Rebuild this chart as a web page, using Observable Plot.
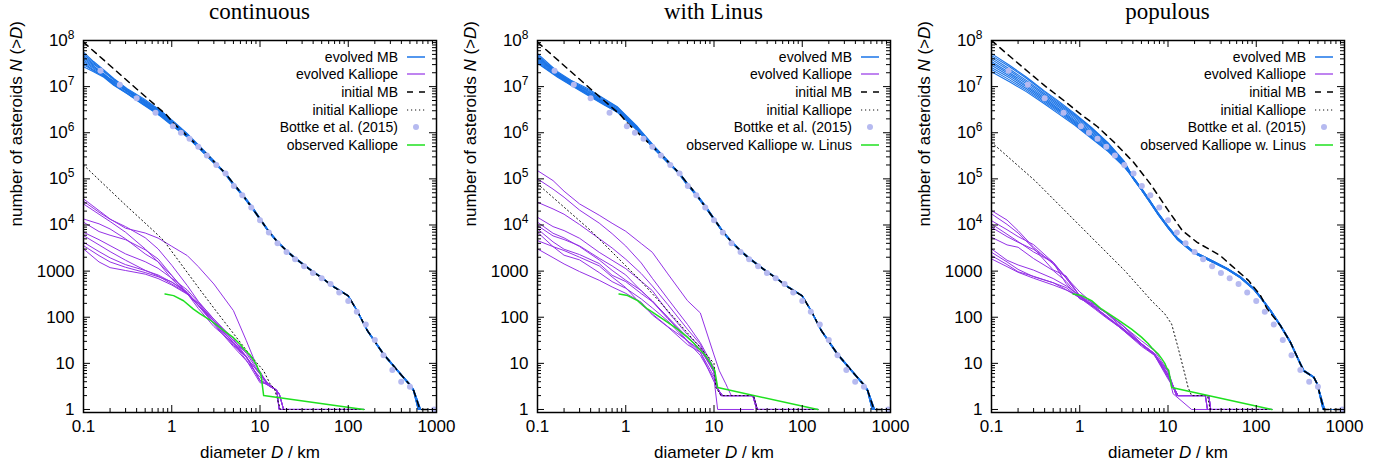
<!DOCTYPE html>
<html>
<head>
<meta charset="utf-8">
<script src="https://cdn.jsdelivr.net/npm/d3@7"></script>
<script src="https://cdn.jsdelivr.net/npm/@observablehq/plot@0.6"></script>
<style>
  html,body{margin:0;padding:0;background:#fff;}
  #wrap{position:relative;width:1392px;height:470px;overflow:hidden;background:#fff;}
  .panel{position:absolute;top:30px;}
  .title{position:absolute;top:-1px;height:30px;font-family:"Liberation Serif","Times New Roman",serif;font-size:23px;line-height:25px;text-align:center;color:#000;white-space:nowrap;}
  .legend{position:absolute;font-family:"Liberation Sans",Arial,sans-serif;font-size:14px;color:#000;}
  .legend .row{display:flex;justify-content:flex-end;align-items:center;height:17.6px;white-space:nowrap;}
  .legend .row svg{margin-left:9px;flex:none;}
</style>
</head>
<body>
<div id="wrap"></div>
<script>
// ---------------- texts ----------------
const panelTitles = ["continuous", "with Linus", "populous"];
const legendLabels = ["evolved MB", "evolved Kalliope", "initial MB", "initial Kalliope", "Bottke et al. (2015)"];
const obsLabels = ["observed Kalliope", "observed Kalliope w. Linus", "observed Kalliope w. Linus"];
const xTitle = "diameter D / km";
const yTitle = "number of asteroids N (>D)";
const xTickValues = [0.1, 1, 10, 100, 1000];
const xTickLabels = ["0.1", "1", "10", "100", "1000"];
const yTickValues = [1, 10, 100, 1000, 1e4, 1e5, 1e6, 1e7, 1e8];
const yTickLabels = ["1", "10", "100", "1000", "10^4", "10^5", "10^6", "10^7", "10^8"];

// ---------------- Bottke et al. (2015) ----------------
const bottkeD = [0.156,0.258,0.40,0.655,1.03,1.27,1.59,2.0,2.5,3.2,4.07,5.05,6.3,7.96,10,12.6,15.8,20,25,31.6,39.8,50,63,79,100,125,158,200,251,316,398,500,940];
const bottkeN = [2.2e7,1.1e7,5.6e6,2.7e6,1.38e6,1.0e6,7.4e5,5.0e5,3.2e5,2.0e5,1.3e5,7.0e4,4.4e4,2.4e4,1.27e4,6.9e3,4.0e3,2.6e3,1.8e3,1.28e3,910,700,525,345,225,132,70,32,15,7.2,4,3.1,1];

// ---------------- evolved MB, panels 1 & 2 ----------------
const mbGrid1 = [0.1,0.13,0.17,0.22,0.31,0.48,0.74,1.05,1.48,2.1,3.0];
const mbP1 = [
  [5.6e7,3.5e7,2.3e7,1.5e7,9.1e6,5.5e6,3.1e6,1.75e6,9.8e5,5.0e5,2.5e5],
  [5.1e7,3.3e7,2.2e7,1.45e7,8.8e6,5.2e6,3.0e6,1.7e6,9.6e5,4.9e5,2.45e5],
  [4.7e7,3.1e7,2.1e7,1.4e7,8.5e6,5.0e6,2.9e6,1.65e6,9.4e5,4.8e5,2.4e5],
  [4.4e7,2.9e7,1.75e7,1.33e7,8.2e6,4.8e6,2.8e6,1.6e6,9.2e5,4.7e5,2.38e5],
  [4.1e7,2.75e7,1.9e7,1.28e7,8.0e6,4.7e6,2.7e6,1.55e6,9.0e5,4.6e5,2.35e5],
  [3.8e7,2.6e7,1.85e7,1.22e7,7.8e6,4.5e6,2.6e6,1.5e6,8.8e5,4.55e5,2.3e5],
  [3.5e7,2.45e7,1.8e7,1.18e7,8.2e6,4.4e6,2.5e6,1.45e6,8.6e5,4.5e5,2.28e5],
  [3.2e7,2.3e7,1.7e7,1.13e7,7.4e6,4.2e6,2.45e6,1.42e6,8.5e5,4.4e5,2.25e5],
  [3.0e7,2.2e7,1.65e7,1.1e7,7.2e6,4.1e6,2.4e6,1.38e6,8.3e5,4.35e5,2.22e5],
  [2.7e7,2.1e7,1.6e7,1.07e7,7.1e6,4.0e6,2.3e6,1.35e6,8.2e5,4.3e5,2.2e5]
];
const mbGrid2 = [0.1,0.169,0.239,0.37,0.57,0.81,1.05,1.36,2.1,3.0];
const mbP2 = [
  [5.2e7,2.1e7,1.38e7,9.1e6,5.5e6,3.6e6,2.2e6,1.35e6,5.1e5,2.5e5],
  [4.8e7,2.0e7,1.32e7,8.6e6,5.3e6,3.5e6,2.1e6,1.3e6,5.0e5,2.45e5],
  [4.5e7,1.95e7,1.28e7,8.2e6,5.0e6,3.4e6,2.05e6,1.27e6,4.9e5,2.4e5],
  [4.3e7,1.9e7,1.25e7,7.9e6,4.8e6,3.2e6,2.0e6,1.25e6,4.85e5,2.38e5],
  [4.1e7,1.85e7,1.22e7,7.6e6,4.6e6,3.1e6,1.95e6,1.22e6,4.8e5,2.35e5],
  [3.9e7,1.8e7,1.18e7,7.3e6,4.5e6,3.0e6,1.9e6,1.2e6,4.7e5,2.32e5],
  [3.7e7,1.75e7,1.15e7,7.1e6,4.3e6,2.95e6,1.85e6,1.18e6,4.6e5,2.3e5],
  [3.5e7,1.7e7,1.12e7,6.9e6,4.2e6,2.85e6,1.8e6,1.15e6,4.5e5,2.27e5],
  [3.3e7,1.65e7,1.1e7,6.7e6,4.1e6,2.8e6,1.77e6,1.13e6,4.45e5,2.24e5],
  [3.2e7,1.6e7,1.07e7,6.5e6,4.0e6,2.75e6,1.74e6,1.12e6,4.4e5,2.2e5]
];
const mbTail12a = [[4,1.35e5],[5,7.6e4],[6.3,4.6e4],[8,2.5e4],[10,1.35e4],[12.6,7.2e3],[15.8,4.3e3],[20,2.75e3],[25,1.9e3],[32,1.33e3],[40,960],[48,760],[68,460],[100,290],[126,138],[164,52],[250,16],[390,5.9],[507,3.3],[550,2.6],[650,1],[940,1]];
const mbTail12b = [[4,1.3e5],[5,7.3e4],[6.3,4.4e4],[8,2.4e4],[10,1.3e4],[12.6,7.0e3],[15.8,4.2e3],[20,2.7e3],[25,1.85e3],[32,1.3e3],[40,950],[48,750],[68,455],[100,288],[126,136],[164,51],[250,15.5],[390,5.8],[507,3.2],[550,2.5],[620,1],[940,1]];
const mbTail12c = [[4,1.4e5],[5,7.9e4],[6.3,4.75e4],[8,2.6e4],[10,1.4e4],[12.6,7.4e3],[15.8,4.4e3],[20,2.8e3],[25,1.95e3],[32,1.36e3],[40,980],[48,775],[68,468],[100,292],[126,140],[164,53],[250,16.5],[390,6.0],[507,3.4],[550,2.7],[660,1],[940,1]];
const initMB12 = [[0.1,9.2e7],[0.4,8.9e6],[0.88,2.4e6],[1.05,1.6e6],[1.6,7.6e5],[2.5,3.4e5],[4,1.35e5],[6.3,4.6e4],[10,1.35e4],[12.6,7.2e3],[15.8,4.3e3],[20,2.75e3],[25,1.9e3],[32,1.33e3],[40,960],[48,760],[68,460],[100,290],[126,138],[164,52],[250,16],[390,5.9],[507,3.3],[550,2.6],[650,1],[940,1]];

// ---------------- evolved MB, panel 3 ----------------
const mbGrid3 = [0.1,0.16,0.25,0.4,0.57,0.88,1.36,2.1,3.2];
const mbP3 = [
  [5.2e7,2.9e7,1.6e7,8.0e6,4.9e6,2.6e6,1.3e6,6.0e5,2.4e5],
  [4.7e7,2.7e7,1.5e7,7.6e6,4.6e6,2.45e6,1.25e6,5.8e5,2.35e5],
  [4.3e7,2.4e7,1.35e7,7.0e6,4.3e6,2.3e6,1.18e6,5.5e5,2.25e5],
  [3.9e7,2.2e7,1.25e7,6.5e6,4.0e6,2.15e6,1.1e6,5.2e5,2.2e5],
  [3.5e7,2.0e7,1.15e7,6.0e6,3.7e6,2.0e6,1.02e6,5.0e5,2.1e5],
  [3.2e7,1.85e7,1.05e7,5.6e6,3.4e6,1.85e6,9.5e5,4.7e5,2.05e5],
  [2.9e7,1.7e7,9.8e6,5.2e6,3.2e6,1.75e6,8.8e5,4.4e5,1.95e5],
  [2.6e7,1.55e7,9.0e6,4.8e6,3.0e6,1.65e6,8.3e5,4.2e5,1.9e5],
  [2.35e7,1.4e7,8.3e6,4.5e6,2.8e6,1.55e6,7.9e5,4.0e5,1.85e5],
  [2.1e7,1.27e7,7.7e6,4.2e6,2.6e6,1.45e6,7.5e5,3.9e5,1.8e5]
];
const mbTail3a = [[4.1,1.0e5],[5,6.0e4],[6.2,3.3e4],[7.74,1.74e4],[10.2,8600],[12.7,5100],[15.5,3700],[19.6,2560],[25.5,2000],[33,1560],[47,1110],[66,735],[94,410],[112,270],[145,139],[188,66],[244,28.6],[317,9.7],[346,6.9],[449,5.0],[490,3.6],[583,1],[942,1]];
const mbTail3b = [[4.1,9.6e4],[5,5.75e4],[6.2,3.15e4],[7.74,1.67e4],[10.2,8250],[12.7,4900],[15.5,3550],[19.6,2470],[25.5,1930],[33,1510],[47,1080],[66,715],[94,398],[112,262],[145,135],[188,64],[244,27.5],[317,9.3],[346,6.7],[449,4.9],[490,3.5],[570,1],[942,1]];
const mbTail3c = [[4.1,1.04e5],[5,6.25e4],[6.2,3.45e4],[7.74,1.81e4],[10.2,8950],[12.7,5300],[15.5,3850],[19.6,2650],[25.5,2070],[33,1610],[47,1140],[66,755],[94,422],[112,278],[145,143],[188,68],[244,29.6],[317,10],[346,7.1],[449,5.1],[490,3.7],[595,1],[942,1]];
const initMB3 = [[0.1,1.0e8],[0.16,4.6e7],[0.26,2.1e7],[0.40,1.05e7],[0.66,5.0e6],[1.03,2.5e6],[1.59,1.35e6],[2.5,6.0e5],[4.07,2.3e5],[6.3,7.8e4],[10,2.1e4],[14.5,7600],[21.4,4200],[39,2170],[82,622],[112,294],[133,151],[188,66],[244,28.6],[317,9.7],[346,6.9],[449,5.0],[490,3.6],[583,1],[942,1]];

// ---------------- evolved Kalliope ----------------
const kGridD = [0.1,0.15,0.2,0.3,0.5,0.7,1,1.5,2,3,5,7,10];
const kalP1 = [
  [36800,20500,13500,8500,6700,5200,3450,2170,1250,526,139,31,5.9],
  [32700,18900,13300,9200,5300,3030,1340,485,221,91,31,16.5,5.9],
  [28600,17100,11900,6950,3030,1580,676,315,200,83,28,13.5,5.9],
  [13500,10600,8200,5000,2360,1600,798,315,181,83,31,18,6.7],
  [11500,7200,6000,4800,2900,1840,810,330,177,71,23,11.4,5.0],
  [6950,4800,3570,2360,1600,1150,700,390,214,91,34,13.7,4.2],
  [5890,3700,2650,1720,1040,785,526,325,155,63,26.7,11.8,3.8],
  [4220,2650,1940,1380,1030,825,574,355,181,73,28.8,14.3,4.2],
  [3570,2170,1580,1210,930,757,585,330,181,76,24.3,14.2,4.3],
  [3030,1580,1190,1030,860,690,500,315,200,84,26.7,13.5,5.8]
];
const kalTail1a = [[12.5,3.6],[14,3],[15.5,2.6],[16.5,1],[150,1]];
const kalTail1b = [[12.5,3.3],[14.5,2.8],[16.5,2.2],[18.5,1],[150,1]];
const kalP2 = [
  [151000,91800,54000,28600,16300,10900,7300,3950,2560,870,229,124,15.2],
  [100000,60000,40000,21000,11000,6500,3500,1500,700,250,70,28,8],
  [31100,22300,17100,10200,5070,3180,1810,884,477,188,55,25.9,6.3],
  [14700,9230,7560,5150,2560,1720,1130,602,378,132,42,23,6.4],
  [11500,6620,5250,3400,1750,1040,633,378,225,100,36.7,19.5,7.3],
  [9700,5800,4830,3520,1900,1300,826,372,225,98,30.5,19.5,7.0],
  [8220,4300,2980,2280,1460,813,592,325,218,93,36,20.5,6.4],
  [6970,3400,2210,1750,929,592,425,249,159,83,29.6,14.9,4.6],
  [3030,1960,1430,976,633,454,330,211,112,61.5,25.5,17.4,4.0],
  [4590,3400,2790,2000,1300,748,439,188,118,62.5,31.1,17.4,5.2]
];
const kalTail2a = [[10.5,3.5],[12,2],[28,2],[31,1],[150,1]];
const kalTail2b = [[10.7,3],[12.5,2],[27.5,2],[30.5,1],[150,1]];
const kalTail2out = [[11.5,6.9],[13.6,3.6],[14.2,3],[15.7,2],[28,2],[31,1],[150,1]];
const kalTail2end = [[11,1],[28,1]];
const kalP3 = [
  [20500,12800,7550,3290,1430,700,294,170,127,68,31,18.9,6.9],
  [17400,10300,6700,3130,1060,785,290,155,102,59,26.3,15.4,5.9],
  [12400,7900,5600,3750,1550,535,250,185,122,61,26,16.5,5.0],
  [10500,6300,4370,2600,1550,710,285,160,100,57,25.7,15.4,5.0],
  [5420,3700,3290,1870,1030,600,265,148,97,56,25.5,15.4,6.6],
  [3030,1720,1360,1050,690,480,294,190,123,68,26.7,16.5,5.7],
  [2170,1390,970,770,560,440,260,167,104,55,25,15.2,4.6],
  [1840,1250,944,700,500,390,280,160,107,55,23.5,15,5.5],
  [2560,1580,1090,757,560,397,264,158,107,59,26.3,15.7,5.6],
  [8930,5600,4220,2950,1550,734,355,180,123,70,27,16.3,6.8]
];
const kalTail3a = [[11.5,3],[12.5,2],[26.5,2],[28,1],[150,1]];
const kalTail3b = [[11.6,3],[13,2],[29,2],[30.5,1],[150,1]];
const kalTail3end = [[11.4,2.2],[18.5,1],[28,1]];

// ---------------- initial Kalliope ----------------
const initKal1 = [[0.1,2.0e5],[0.3,2.7e4],[0.65,6900],[0.81,4600],[2.1,390],[3.24,130],[7.75,15],[11,6.9],[13,3.6],[14.6,2.8],[17,1],[150,1]];
const initKal2 = [[0.1,78000],[0.4,7600],[1.47,620],[3.5,100],[10,10],[10.5,3],[12,2],[28,2],[31,1],[150,1]];
const initKal3 = [[0.1,6.2e5],[0.31,9.2e4],[0.96,1.05e4],[3.24,1020],[6.5,229],[9.2,118],[11,71],[13,22],[15.5,5.9],[16.9,3],[18.5,2],[28,2],[30,1],[150,1]];

// ---------------- observed Kalliope ----------------
const obsKal = [[0.84,319],[1.05,294],[1.36,228],[1.76,150],[2.1,118],[2.72,87],[3.86,52],[5.0,36],[5.95,26],[6.5,21],[7.74,15],[8.4,12],[9.2,9],[9.6,7.2],[10.2,6],[10.5,4],[11,2],[150,1]];
const obsKalLinus = [[0.84,320],[1.05,295],[1.36,229],[1.76,151],[2.72,88],[3.86,55],[5.0,37],[5.95,27],[6.5,22],[7.74,16],[8.4,13],[9.2,10],[9.6,8.2],[10.2,7],[10.5,5],[11,3],[150,1]];

// ---------------- styles ----------------
const BLUE = "#1a74e8", PURPLE = "#9431e6", LAV = "#b6baf0", GREEN = "#1fe01f";
const PW = 464, PH = 440, MT = 10, MBOT = 58, FW = 353, FH = 372;
const marginLefts = [83, 73, 63];

function pairs(grid, vals) { return grid.map((D, i) => [D, vals[i]]); }
function rows(list) {
  const out = [];
  list.forEach((s, k) => s.forEach(([D, N]) => out.push({D, N, id: k})));
  return out;
}
const bottke = bottkeD.map((D, i) => [D, bottkeN[i]]);
const minorMult = [2,3,4,5,6,7,8,9];
const yMinor = [1,10,100,1000,1e4,1e5,1e6,1e7].flatMap(d => minorMult.map(m => m * d));
const xMinor = [0.1,1,10,100].flatMap(d => minorMult.map(m => m * d));

const panels = [
  {
    mb: mbP1.map((v, k) => pairs(mbGrid1, v).concat([mbTail12a, mbTail12b, mbTail12c][k % 3])),
    kal: kalP1.map((v, k) => pairs(kGridD, v).concat(k % 2 ? kalTail1b : kalTail1a)),
    mbInit: initMB12, kalInit: initKal1, obs: obsKal
  },
  {
    mb: mbP2.map((v, k) => pairs(mbGrid2, v).concat([mbTail12b, mbTail12a, mbTail12c][k % 3])),
    kal: kalP2.map((v, k) => pairs(kGridD, v).concat(k === 0 ? kalTail2out : k === 7 ? kalTail2end : (k % 2 ? kalTail2b : kalTail2a))),
    mbInit: initMB12, kalInit: initKal2, obs: obsKalLinus
  },
  {
    mb: mbP3.map((v, k) => pairs(mbGrid3, v).concat([mbTail3a, mbTail3b, mbTail3c][k % 3])),
    kal: kalP3.map((v, k) => pairs(kGridD, v).concat(k === 4 ? kalTail3end : (k % 2 ? kalTail3b : kalTail3a))),
    mbInit: initMB3, kalInit: initKal3, obs: obsKalLinus
  }
];

const X = d => d[0], Y = d => d[1];

function makePlot(p, ml) {
  const mr = PW - ml - FW;
  const svg = Plot.plot({
    width: PW, height: PH,
    marginTop: MT, marginBottom: MBOT, marginLeft: ml, marginRight: mr,
    x: {type: "log", domain: [0.1, 1000], axis: null},
    y: {type: "log", domain: [0.86, 1e8], axis: null},
    style: {fontFamily: '"Liberation Sans", Arial, Helvetica, sans-serif', fontSize: "17px", color: "black", background: "white", overflow: "visible"},
    marks: [
      Plot.line(rows(p.mb), {x: "D", y: "N", z: "id", stroke: BLUE, strokeWidth: 1.1, clip: true}),
      Plot.line(rows(p.kal), {x: "D", y: "N", z: "id", stroke: PURPLE, strokeWidth: 1, clip: true}),
      Plot.line(p.mbInit, {x: X, y: Y, stroke: "black", strokeWidth: 1.5, strokeDasharray: "6,5", clip: true}),
      Plot.line(p.kalInit, {x: X, y: Y, stroke: "#111", strokeWidth: 1, strokeDasharray: "1.2,2.8", clip: true}),
      Plot.dot(bottke, {x: X, y: Y, r: 3, fill: LAV, stroke: "none"}),
      Plot.line(p.obs, {x: X, y: Y, stroke: GREEN, strokeWidth: 1.5, clip: true}),
      Plot.tickX(xTickValues, {x: d => d, insetTop: FH - 7, stroke: "black"}),
      Plot.tickX(xTickValues, {x: d => d, insetBottom: FH - 7, stroke: "black"}),
      Plot.tickX(xMinor, {x: d => d, insetTop: FH - 4, stroke: "black"}),
      Plot.tickX(xMinor, {x: d => d, insetBottom: FH - 4, stroke: "black"}),
      Plot.tickY(yTickValues, {y: d => d, insetRight: FW - 7, stroke: "black"}),
      Plot.tickY(yTickValues, {y: d => d, insetLeft: FW - 7, stroke: "black"}),
      Plot.tickY(yMinor, {y: d => d, insetRight: FW - 4, stroke: "black"}),
      Plot.tickY(yMinor, {y: d => d, insetLeft: FW - 4, stroke: "black"}),
      Plot.frame({stroke: "black", strokeWidth: 1.5}),
      Plot.text(xTickValues, {x: d => d, text: (d, i) => xTickLabels[i], frameAnchor: "bottom", dy: 19, fontSize: 17, fill: "black"}),
      Plot.text(yTickValues, {y: d => d, text: (d, i) => yTickLabels[i], frameAnchor: "left", textAnchor: "end", dx: -9, fontSize: 17, fill: "black"}),
      Plot.text([xTitle], {text: d => d, frameAnchor: "bottom", dy: 45, fontSize: 17, fill: "black"}),
      Plot.text([yTitle], {text: d => d, frameAnchor: "left", dx: -67, rotate: -90, fontSize: 17, fill: "black"})
    ]
  });
  svg.querySelectorAll("text").forEach(t => {
    const s = t.textContent;
    const m = s.match(/^10\^(\d)$/);
    if (m) t.innerHTML = `10<tspan dy="-7" font-size="12">${m[1]}</tspan>`;
    else if (s === xTitle) t.innerHTML = 'diameter <tspan font-style="italic">D</tspan> / km';
    else if (s === yTitle) t.innerHTML = 'number of asteroids <tspan font-style="italic">N</tspan> (&gt;<tspan font-style="italic">D</tspan>)';
  });
  return svg;
}

const samples = [
  `<line x1="0" y1="5" x2="18" y2="5" stroke="${BLUE}" stroke-width="1.5"/>`,
  `<line x1="0" y1="5" x2="18" y2="5" stroke="${PURPLE}" stroke-width="1.2"/>`,
  `<line x1="0" y1="5" x2="18" y2="5" stroke="black" stroke-width="1.5" stroke-dasharray="6,6"/>`,
  `<line x1="0" y1="5" x2="18" y2="5" stroke="#111" stroke-width="1" stroke-dasharray="1.2,2.8"/>`,
  `<circle cx="9" cy="5" r="3" fill="${LAV}"/>`,
  `<line x1="0" y1="5" x2="18" y2="5" stroke="${GREEN}" stroke-width="1.5"/>`
];

const wrap = document.getElementById("wrap");
panels.forEach((p, i) => {
  const ml = marginLefts[i];
  const left = PW * i;
  const holder = document.createElement("div");
  holder.className = "panel";
  holder.style.left = left + "px";
  holder.appendChild(makePlot(p, ml));
  wrap.appendChild(holder);

  const title = document.createElement("div");
  title.className = "title";
  title.style.left = (left + ml) + "px";
  title.style.width = FW + "px";
  title.textContent = panelTitles[i];
  wrap.appendChild(title);

  const leg = document.createElement("div");
  leg.className = "legend";
  leg.style.left = (left + ml) + "px";
  leg.style.width = "342px";
  leg.style.top = "48px";
  const labels = legendLabels.concat([obsLabels[i]]);
  labels.forEach((lab, k) => {
    const row = document.createElement("div");
    row.className = "row";
    const span = document.createElement("span");
    span.textContent = lab;
    row.appendChild(span);
    const s = document.createElementNS("http://www.w3.org/2000/svg", "svg");
    s.setAttribute("width", "18");
    s.setAttribute("height", "10");
    s.innerHTML = samples[k];
    row.appendChild(s);
    leg.appendChild(row);
  });
  wrap.appendChild(leg);
});
</script>
</body>
</html>
